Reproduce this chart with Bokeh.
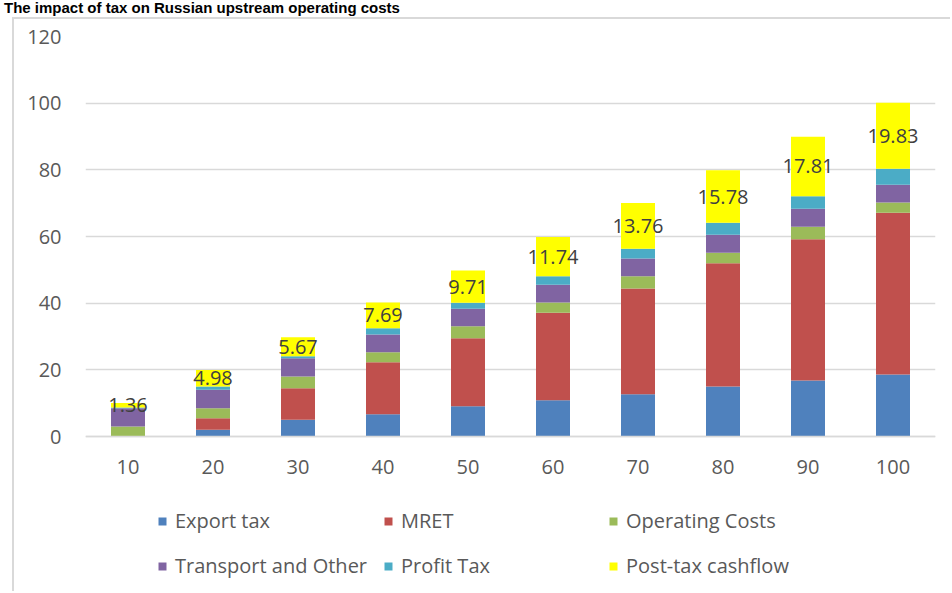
from bokeh.plotting import figure
from bokeh.layouts import column
from bokeh.models import (ColumnDataSource, FactorRange, Range1d, FixedTicker,
                          Legend, LegendItem, LabelSet, Div)
from bokeh.embed import file_html
from bokeh.resources import INLINE
from bokeh.core.properties import value

# ---- data ----
prices = ["10", "20", "30", "40", "50", "60", "70", "80", "90", "100"]
export_tax = [0.0, 2.0, 5.0, 6.7, 9.1, 10.9, 12.7, 15.0, 16.8, 18.6]
mret = [0.0, 3.5, 9.5, 15.6, 20.4, 26.2, 31.7, 37.0, 42.4, 48.5]
operating_costs = [3.0, 3.0, 3.5, 3.0, 3.6, 3.1, 3.7, 3.1, 3.7, 3.1]
transport_other = [5.5, 5.5, 5.5, 5.3, 5.2, 5.3, 5.3, 5.4, 5.4, 5.3]
profit_tax = [0.2, 1.0, 0.6, 1.9, 1.8, 2.6, 2.9, 3.6, 3.8, 4.8]
post_tax_cashflow = [1.36, 4.98, 5.67, 7.69, 9.71, 11.74, 13.76, 15.78, 17.81, 19.83]

series_names = ["Export tax", "MRET", "Operating Costs", "Transport and Other",
                "Profit Tax", "Post-tax cashflow"]
series_colors = ["#4F81BD", "#C0504D", "#9BBB59", "#8064A2", "#4BACC6", "#FFFF00"]
y_ticks = [0, 20, 40, 60, 80, 100, 120]
title_text = "The impact of tax on Russian upstream operating costs"

keys = ["export_tax", "mret", "operating_costs", "transport_other", "profit_tax", "post_tax"]
columns = [export_tax, mret, operating_costs, transport_other, profit_tax, post_tax_cashflow]

src = ColumnDataSource(dict(price=prices, **{k: v for k, v in zip(keys, columns)}))

base = [sum(c[i] for c in columns[:5]) for i in range(len(prices))]
label_src = ColumnDataSource(dict(
    price=prices,
    y=[b + pt / 2 for b, pt in zip(base, post_tax_cashflow)],
    text=["%.2f" % v for v in post_tax_cashflow],
))

FONT = "Open Sans"

# frame: 400 px for 0..120, extended downward to hold axis labels and legend
p = figure(x_range=FactorRange(*prices), y_range=Range1d(-47.1, 120),
           width=938, height=574, output_backend="svg", toolbar_location=None,
           min_border_left=71, min_border_right=17, min_border_top=17,
           min_border_bottom=0, margin=(0, 0, 0, 12),
           styles={"border-left": "2px solid #D9D9D9",
                   "border-top": "2px solid #D9D9D9"})

renderers = p.vbar_stack(keys, x="price", width=0.4, color=series_colors,
                         source=src, line_color=None)

p.add_layout(LabelSet(x="price", y="y", text="text", source=label_src,
                      text_align="center", text_baseline="middle",
                      text_font=value(FONT), text_font_size="20px",
                      text_color="#404040"))

# axes
p.outline_line_color = None
p.background_fill_color = "white"
p.border_fill_color = "white"
p.xgrid.grid_line_color = None
p.ygrid.grid_line_color = "#D9D9D9"
p.ygrid.grid_line_width = 1.5
p.yaxis.ticker = FixedTicker(ticks=y_ticks)
p.yaxis.axis_line_color = None
p.yaxis.major_tick_line_color = None
p.yaxis.minor_tick_line_color = None
p.yaxis.major_label_standoff = 18
p.xaxis.fixed_location = 0
p.xaxis.axis_line_color = "#D9D9D9"
p.xaxis.axis_line_width = 1.5
p.xaxis.major_tick_line_color = None
p.xaxis.major_label_standoff = 17
for ax in (p.xaxis, p.yaxis):
    ax.major_label_text_font = FONT
    ax.major_label_text_font_size = "20px"
    ax.major_label_text_color = "#595959"

# legend
items = [LegendItem(label=n, renderers=[r]) for n, r in zip(series_names, renderers)]
legend = Legend(items=items, ncols=3, orientation="horizontal",
                location=(72, 13),
                glyph_width=10, glyph_height=10, label_standoff=8,
                label_width=191, label_height=29, spacing=16,
                padding=0, margin=0, border_line_color=None,
                background_fill_alpha=0,
                label_text_font=FONT, label_text_font_size="20px",
                label_text_color="#595959")
p.add_layout(legend)

title = Div(text=title_text, width=940, height=17, margin=(0, 0, 0, 4),
            styles={"font-family": "Liberation Sans", "font-weight": "bold",
                    "font-size": "15px", "line-height": "15px", "color": "black"})

layout = column(title, p, spacing=0)
open("out.html", "w").write(file_html(layout, INLINE))
